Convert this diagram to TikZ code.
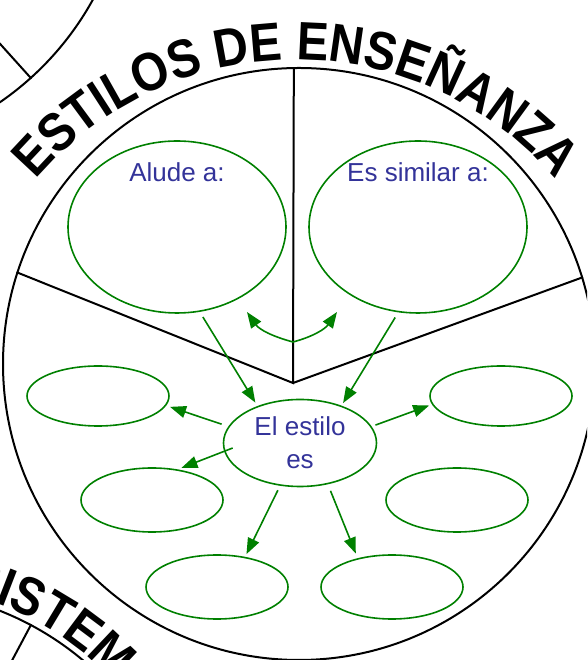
\documentclass[tikz,border=0pt]{standalone}
\usepackage{fontspec}
\setmainfont{Liberation Sans}
\newfontfamily\titfont[FakeStretch=0.88]{Liberation Sans}
\usepackage{tikz}
\usetikzlibrary{arrows.meta,shapes.geometric,positioning,decorations.text,calc}
\definecolor{verde}{RGB}{0,128,0}
\definecolor{azul}{RGB}{51,51,153}
\newcommand{\letrero}{\titfont\bfseries\fontsize{54}{54}\selectfont}
\tikzset{
	rueda/.style = {circle, draw=black, line width=2pt, inner sep=0pt},
	divisor/.style = {draw=black, line width=2pt},
	burbuja/.style = {ellipse, draw=verde, line width=1.6pt, inner sep=0pt},
	bur_g/.style = {burbuja, minimum width=218pt, minimum height=172pt},
	bur_p/.style = {burbuja, minimum width=142pt, minimum height=64pt},
	rotulo/.style = {text=azul, inner sep=0pt, font=\fontsize{26}{33}\selectfont,
		align=center},
	flecha/.style = {->, draw=verde, line width=1.6pt}
}

\begin{document}
\begin{tikzpicture}[x=1pt, y=1pt, >={Triangle[length=16pt,width=12pt]}]
\useasboundingbox (0,0) rectangle (587,660);
\clip (0,0) rectangle (587,660);
% ruedas
\node [rueda, minimum size=592pt] (circulo) at (299,296) {};
\node [rueda, minimum size=600pt] (vecA) at (-170,805) {};
\node [rueda, minimum size=600pt] (vecB) at (-110,-230) {};
\coordinate (eje) at (293,277);
\draw [divisor] (circulo.91.2) -- (eje) -- (circulo.162.5);
\draw [divisor] (eje) -- (circulo.17.6);
\draw [divisor] (vecA.-48.7) -- ($(vecA.center)!0.8!(vecA.-48.7)$);
\draw [divisor] (vecB.62.2) -- ($(vecB.center)!0.8!(vecB.62.2)$);
% titulos curvos
\path [decorate, decoration={text along path, text align=center,
	text={|\letrero|ESTILOS DE ENSEÑANZA}}]
	($(296,258)+(160:342)$) arc [start angle=160, end angle=20, radius=342];
\path [decorate, decoration={text along path, text align=left,
	text={|\letrero|SISTEM}}]
	($(vecB.center)+(76:306)$) arc [start angle=76, end angle=25, radius=306];
% burbujas
\node [bur_g] (alude) at (177,433) {};
\node [bur_g] (similar) at (418,433) {};
\node [rotulo, below=22pt of alude.north] (tAlude) {Alude a:};
\node [rotulo, below=22pt of similar.north] (tSimilar) {Es similar a:};
\node [burbuja, rotulo, minimum width=153pt, minimum height=87pt] (estilo)
	at (300,217) {El estilo\\es};
\node [bur_p, minimum height=60pt] (izqA) at (98,264) {};
\node [bur_p] (izqB) at (152,160) {};
\node [bur_p] (abaA) at (217,73) {};
\node [bur_p] (abaB) at (392,73) {};
\node [bur_p] (derB) at (457,160) {};
\node [bur_p, minimum height=60pt] (derA) at (501,264) {};
% flechas
\draw [flecha, shorten <=6pt, shorten >=4pt] (alude.-75) -- (estilo.139);
\draw [flecha, shorten <=6pt, shorten >=3pt] (similar.-103) -- (estilo.42);
\draw [flecha, shorten <=7pt, shorten >=4pt] (estilo.167) -- (izqA.-8);
\draw [flecha, shorten >=4pt] ([xshift=10pt,yshift=-5pt]estilo.west) -- (izqB.50);
\draw [flecha, shorten <=5pt, shorten >=3pt] (estilo.245) -- (abaA.47);
\draw [flecha, shorten <=7pt, shorten >=5pt] (estilo.-56) -- (abaB.140);
\draw [flecha, shorten <=4pt, shorten >=3pt] (estilo.13) -- (derA.187);
% flecha doble
\coordinate (puntaI) at (247,348);
\coordinate (fondo) at (293,318);
\coordinate (puntaD) at (337,348);
\draw [flecha, <->] (puntaI) to[out=-55,in=165] (fondo) to[out=15,in=-125] (puntaD);
\end{tikzpicture}
\end{document}
